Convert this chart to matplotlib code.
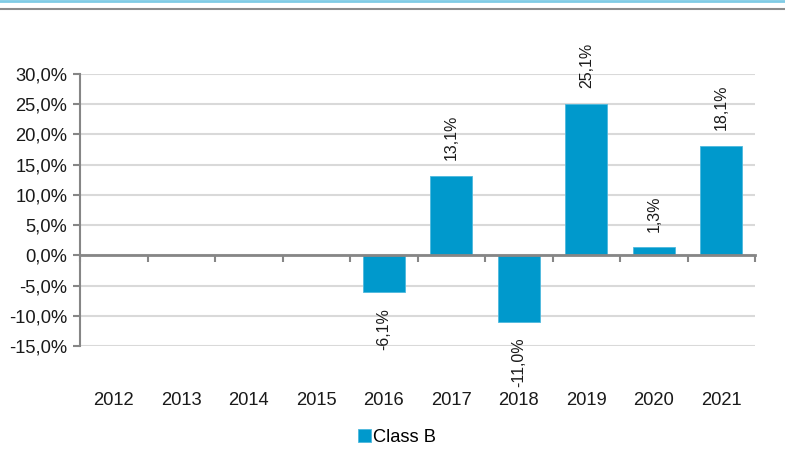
import matplotlib.pyplot as plt
from matplotlib.lines import Line2D
import numpy as np

years = ['2012', '2013', '2014', '2015', '2016', '2017', '2018', '2019', '2020', '2021']
class_b = [np.nan, np.nan, np.nan, np.nan, -6.1, 13.1, -11.0, 25.1, 1.3, 18.1]
yticks = [-15, -10, -5, 0, 5, 10, 15, 20, 25, 30]

BAR = '#0099CC'
AXIS = '#868686'
GRID = '#D9D9D9'

plt.rcParams['font.family'] = ['Liberation Sans', 'DejaVu Sans']


def pct(v):
    return '{:.1f}%'.format(v).replace('.', ',')


fig = plt.figure(figsize=(7.85, 4.66), dpi=100)
ax = fig.add_axes([80 / 785, 1 - 346 / 466, 675 / 785, 272 / 466])

x = np.arange(len(years))
bars = ax.bar(x, class_b, width=0.62, color=BAR, edgecolor='#4DB8DD',
              linewidth=0.6, label='Class B', zorder=3)

# data labels, rotated, outside the bar end
for xi, v in zip(x, class_b):
    if np.isnan(v):
        continue
    off = 11.5 if v >= 0 else -11.5
    ax.annotate(pct(v), (xi, v), xytext=(0, off), textcoords='offset points',
                rotation=90, ha='center', va='bottom' if v >= 0 else 'top',
                fontsize=11.5, color='#1a1a1a', annotation_clip=False)

ax.set_xlim(-0.5, len(years) - 0.5)
ax.set_ylim(-15, 30)
ax.set_yticks(yticks)
ax.set_yticklabels([pct(t) for t in yticks], fontsize=13.2, color='#1a1a1a')
ax.yaxis.grid(True, color=GRID, linewidth=1.5, zorder=0)
ax.tick_params(axis='y', length=5, width=1.5, color=AXIS, pad=4)

# category axis sits on the zero line, ticks between categories
ax.spines['bottom'].set_position(('data', 0))
ax.spines['bottom'].set_color(AXIS)
ax.spines['bottom'].set_linewidth(2)
ax.spines['bottom'].set_zorder(4)
ax.spines['left'].set_color(AXIS)
ax.spines['left'].set_linewidth(1.5)
ax.spines['top'].set_visible(False)
ax.spines['right'].set_visible(False)
ax.set_xticks(np.arange(len(years) + 1) - 0.5)
ax.set_xticklabels([])
ax.tick_params(axis='x', length=5, width=1.5, color=AXIS)

for xi, yr in zip(x, years):
    ax.text(xi, -0.199, yr, transform=ax.get_xaxis_transform(),
            ha='center', va='center', fontsize=13.2, color='#1a1a1a')

fig.legend(handles=[bars], labels=['Class B'], loc='center',
           bbox_to_anchor=(397 / 785, 1 - 437 / 466), frameon=False,
           fontsize=13.2, handlelength=0.7, handleheight=0.7,
           handletextpad=0.15, borderpad=0)

# frame lines at the top of the picture
fig.add_artist(Line2D([0, 1], [1 - 0.5 / 466, 1 - 0.5 / 466], color='#7FCBE5', linewidth=2))
fig.add_artist(Line2D([0, 1], [1 - 9 / 466, 1 - 9 / 466], color='#8C8C8C', linewidth=1.5))

fig.savefig('out.png', dpi=100)
